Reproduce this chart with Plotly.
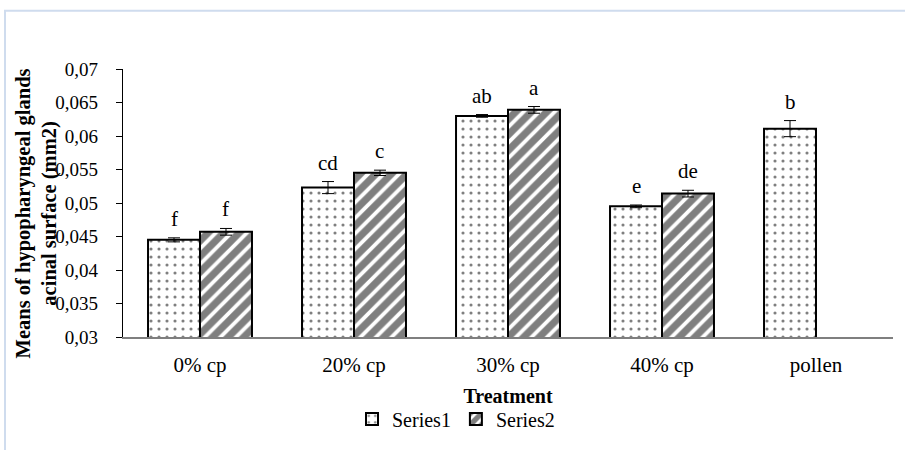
import plotly.graph_objects as go

categories = ["0% cp", "20% cp", "30% cp", "40% cp", "pollen"]
series1 = [0.0445, 0.0523, 0.0630, 0.0495, 0.0611]
series1_err = [0.0003, 0.0009, 0.0002, 0.0002, 0.0012]
series1_letters = ["f", "cd", "ab", "e", "b"]
series2 = [0.0457, 0.0545, 0.0639, 0.0514, None]
series2_err = [0.0005, 0.0004, 0.0005, 0.0005, None]
series2_letters = ["f", "c", "a", "de", None]
ytick_vals = [0.03, 0.035, 0.04, 0.045, 0.05, 0.055, 0.06, 0.065, 0.07]
ytick_text = ["0,03", "0,035", "0,04", "0,045", "0,05", "0,055", "0,06", "0,065", "0,07"]

SERIF = "Liberation Serif, Times New Roman, serif"
W, H = 905, 450
L, R, T, B = 123, 12, 69, 110
PW, PH = W - L - R, H - T - B

fig = go.Figure()
fig.add_trace(go.Bar(
    name="Series1", x=categories, y=series1,
    error_y=dict(type="data", array=series1_err, visible=True, color="black", thickness=1, width=6),
    marker=dict(color="white", line=dict(color="black", width=2),
                pattern=dict(shape=".", fgcolor="black", bgcolor="white", size=8, solidity=0.12)),
))
fig.add_trace(go.Bar(
    name="Series2", x=categories, y=series2,
    error_y=dict(type="data", array=series2_err, visible=True, color="black", thickness=1, width=6),
    marker=dict(color="white", line=dict(color="black", width=2),
                pattern=dict(shape="/", fgcolor="black", bgcolor="white", size=11, solidity=0.65)),
))

bar_half = PW / len(categories) * (1 - 0.325) / 4
for vals, errs, letters, shift in [(series1, series1_err, series1_letters, -bar_half),
                                   (series2, series2_err, series2_letters, bar_half)]:
    for c, v, e, t in zip(categories, vals, errs, letters):
        if v is None or t is None:
            continue
        fig.add_annotation(x=c, y=v + e, text=t, showarrow=False, xshift=shift, yshift=5,
                           yanchor="bottom", font=dict(family=SERIF, size=21, color="black"))

fig.add_annotation(xref="paper", yref="paper", x=(37 - L) / PW, y=1 - (215 - T) / PH,
                   text="Means of hypopharyngeal glands<br>acinal surface (mm2)",
                   textangle=-90, showarrow=False, xanchor="center", yanchor="middle",
                   font=dict(family=SERIF, size=20.5, color="black", weight="bold"))

# outer light-blue frame
fig.add_shape(type="rect", xref="paper", yref="paper",
              x0=(5 - L) / PW, x1=1.2, y0=-1.0, y1=1 + (T - 10) / PH,
              line=dict(color="#cfdcee", width=2), fillcolor="rgba(0,0,0,0)", layer="below")

fig.update_layout(
    width=W, height=H, autosize=False,
    margin=dict(l=L, r=R, t=T, b=B),
    paper_bgcolor="white", plot_bgcolor="white",
    barmode="group", bargap=0.325, bargroupgap=0,
    font=dict(family=SERIF, size=21, color="black"),
    showlegend=True,
    legend=dict(orientation="h", x=(456 - L) / PW, xanchor="center", y=(T + PH - 423) / PH,
                yanchor="middle", font=dict(family=SERIF, size=20, color="black"),
                bgcolor="rgba(0,0,0,0)", itemwidth=30, tracegroupgap=0),
    xaxis=dict(showline=True, linecolor="#7f7f7f", linewidth=1.5, ticks="", showgrid=False,
               title=dict(text="<b>Treatment</b>", font=dict(family=SERIF, size=20), standoff=13),
               tickfont=dict(family=SERIF, size=21), ticklabelstandoff=8),
    yaxis=dict(range=[0.03, 0.07], tickvals=ytick_vals,
               ticktext=[t + "\u00a0" * 3 for t in ytick_text],
               showline=True, linecolor="black", linewidth=1, ticks="outside", ticklen=6,
               tickcolor="black", showgrid=False, zeroline=False,
               tickfont=dict(family=SERIF, size=19)),
)

fig.write_html("out.html", config={"displayModeBar": False},
               post_script="document.body.style.margin='0';document.body.style.overflow='hidden';")
